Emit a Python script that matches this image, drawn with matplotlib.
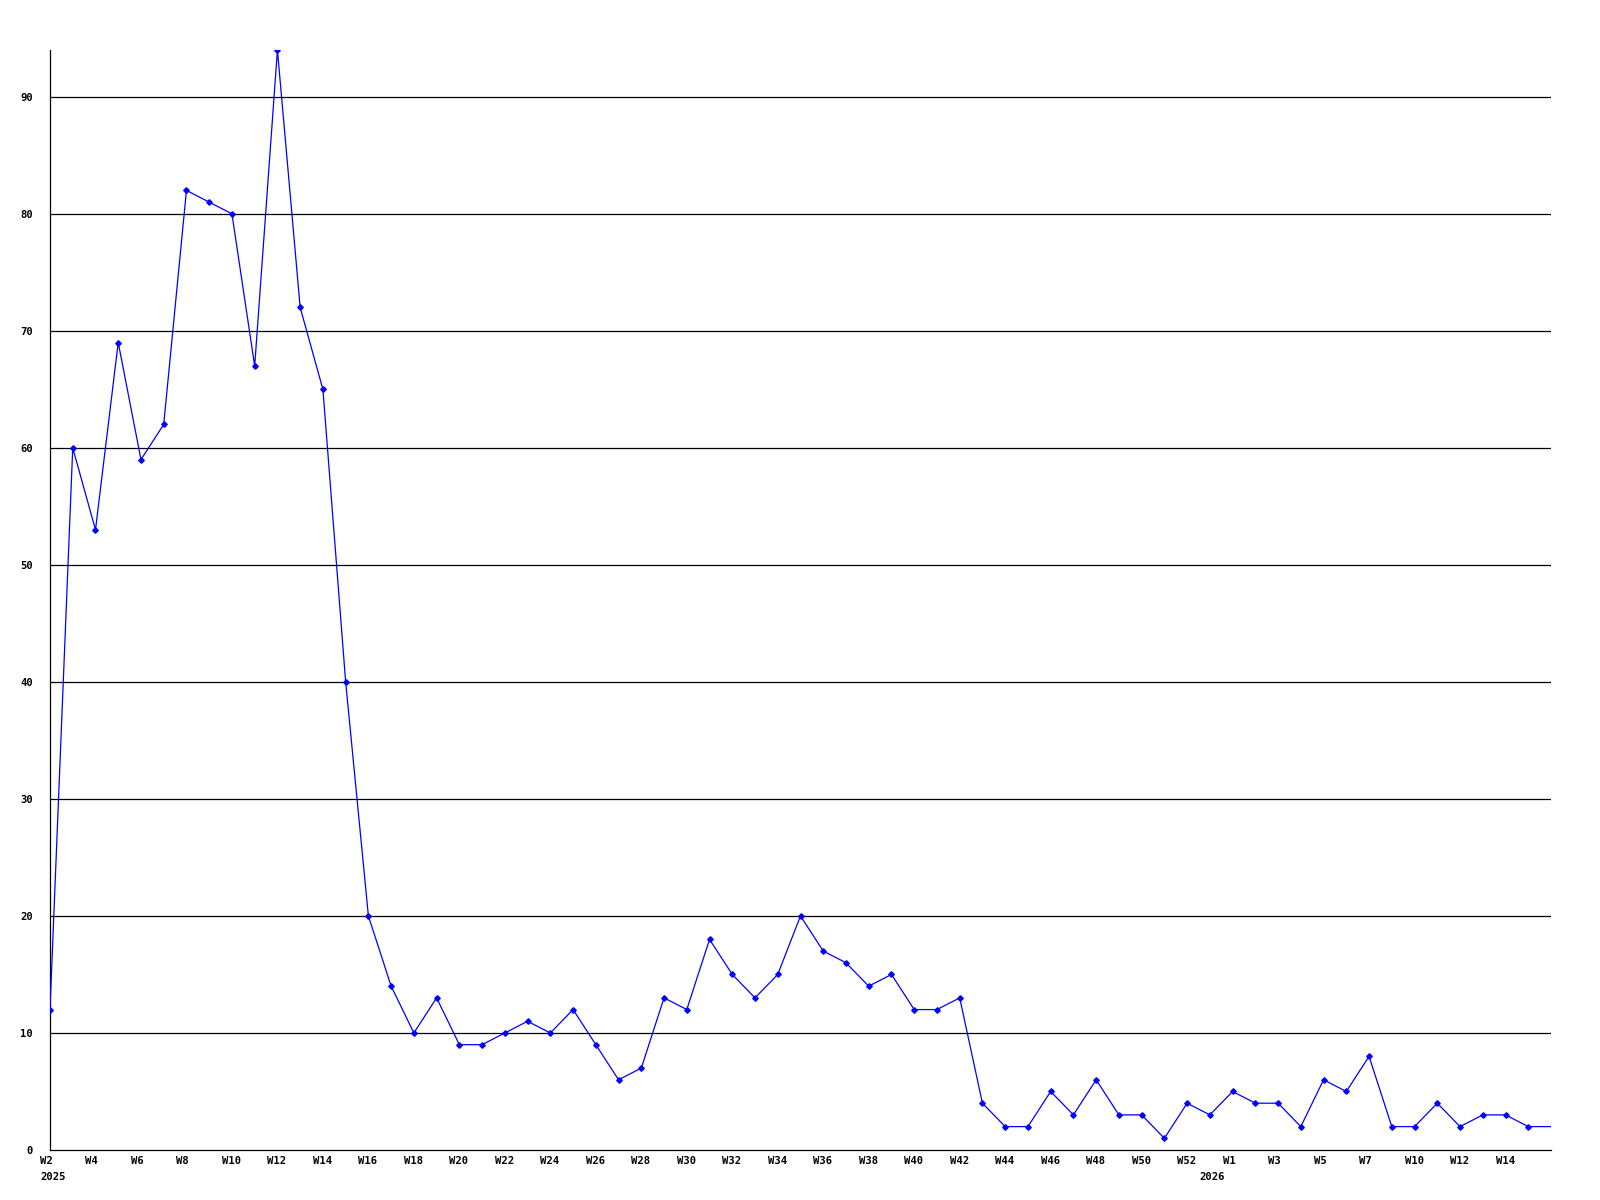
import matplotlib
matplotlib.use("Agg")
import matplotlib.pyplot as plt

# weekly counts, 2025 W2 onwards; last point is the current (open) week, drawn without marker
values = [12, 60, 53, 69, 59, 62, 82, 81, 80, 67, 94, 72, 65, 40, 20, 14, 10, 13, 9, 9,
          10, 11, 10, 12, 9, 6, 7, 13, 12, 18, 15, 13, 15, 20, 17, 16, 14, 15, 12, 12,
          13, 4, 2, 2, 5, 3, 6, 3, 3, 1, 4, 3, 5, 4, 4, 2, 6, 5, 8, 2,
          2, 4, 2, 3, 3, 2, 2]
week_labels = ["W2", "W4", "W6", "W8", "W10", "W12", "W14", "W16", "W18", "W20",
               "W22", "W24", "W26", "W28", "W30", "W32", "W34", "W36", "W38", "W40",
               "W42", "W44", "W46", "W48", "W50", "W52", "W1", "W3", "W5", "W7",
               "W10", "W12", "W14"]
week_pos = list(range(0, 66, 2))
year_labels = ["2025", "2026"]
year_pos = [0, 51]
y_ticks = [0, 10, 20, 30, 40, 50, 60, 70, 80, 90]

FONT = dict(family="DejaVu Sans Mono", fontweight="bold", fontsize=7.6, color="black")
BLUE = "#0000ff"

fig = plt.figure(figsize=(16, 12), dpi=100)
ax = fig.add_axes([50 / 1600, 50 / 1200, 1501 / 1600, 1100 / 1200])

x = list(range(len(values)))
ax.plot(x, values, color=BLUE, lw=0.9, zorder=3)
ax.plot(x[:-1], values[:-1], ls="none", marker="D", ms=2.8, color=BLUE, zorder=4)

for v in y_ticks[1:]:
    ax.axhline(v, color="black", lw=0.9, zorder=1)

ax.set_xlim(0, len(values) - 1)
ax.set_ylim(0, 94)
for s in ("top", "right"):
    ax.spines[s].set_visible(False)
for s in ("left", "bottom"):
    ax.spines[s].set_linewidth(0.9)
    ax.spines[s].set_color("black")

ax.set_yticks(y_ticks)
ax.set_yticklabels([str(v) for v in y_ticks], **FONT)
ax.tick_params(axis="y", length=0, pad=12.3)
ax.set_xticks([])

for p, lab in zip(week_pos, week_labels):
    ax.annotate(lab, xy=(p, 0), xycoords=("data", "axes fraction"),
                xytext=(-10, -6), textcoords="offset pixels",
                ha="left", va="top", **FONT)
for p, lab in zip(year_pos, year_labels):
    ax.annotate(lab, xy=(p, 0), xycoords=("data", "axes fraction"),
                xytext=(-10, -21.5), textcoords="offset pixels",
                ha="left", va="top", **FONT)

fig.savefig("out.png", dpi=100, facecolor="white")
